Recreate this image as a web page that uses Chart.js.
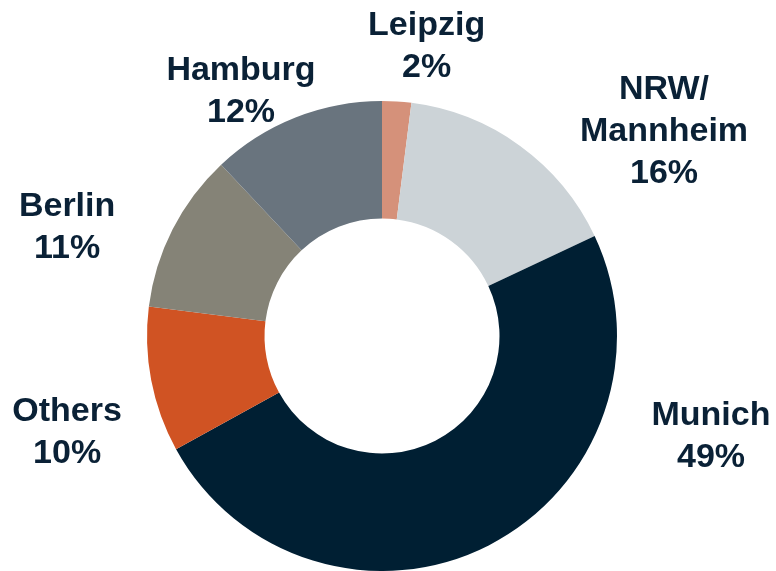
<!DOCTYPE html>
<html>
<head>
<meta charset="utf-8">
<script src="https://cdn.jsdelivr.net/npm/chart.js@4"></script>
<style>
  html, body { margin: 0; padding: 0; background: #fff; }
  canvas { display: block; }
</style>
</head>
<body>
<canvas id="myChart" width="776" height="571"></canvas>
<script>
const categories = ['Leipzig', 'NRW/\nMannheim', 'Munich', 'Others', 'Berlin', 'Hamburg'];
const shares = [2, 16, 49, 10, 11, 12];
const colors = ['#D5917A', '#CCD3D7', '#001F33', '#D05323', '#858377', '#69747E'];
// where each label sits, in units of the outer radius from the centre
const labelSpots = [[0.19, -1.23], [1.2, -0.87], [1.4, 0.43], [-1.34, 0.41], [-1.34, -0.46], [-0.6, -1.04]];

const labelPlugin = {
    id: 'sliceLabels',
    afterDraw(chart) {
        const ctx = chart.ctx;
        const arc = chart.getDatasetMeta(0).data[0];
        const cx = arc.x, cy = arc.y, r = arc.outerRadius;
        ctx.save();
        ctx.font = 'bold 34px "Liberation Sans", Arial, sans-serif';
        ctx.fillStyle = '#0A2136';
        ctx.textAlign = 'center';
        ctx.textBaseline = 'middle';
        const lineH = 42;
        categories.forEach((name, i) => {
            const lines = name.split('\n').concat([shares[i] + '%']);
            const x = cx + labelSpots[i][0] * r;
            const y0 = cy + labelSpots[i][1] * r - (lines.length - 1) * lineH / 2;
            lines.forEach((t, j) => ctx.fillText(t, x, y0 + j * lineH));
        });
        ctx.restore();
    }
};

function renderChart() {
    const ctx = document.getElementById('myChart');
    return new Chart(ctx, {
        type: 'doughnut',
        data: {
            labels: categories,
            datasets: [{
                data: shares,
                backgroundColor: colors,
                borderWidth: 0
            }]
        },
        options: {
            responsive: false,
            animation: false,
            cutout: '50%',
            layout: { padding: { left: 147, right: 159, top: 101, bottom: 0 } },
            plugins: {
                legend: { display: false },
                tooltip: { enabled: false }
            }
        },
        plugins: [labelPlugin]
    });
}
renderChart();
</script>
</body>
</html>
